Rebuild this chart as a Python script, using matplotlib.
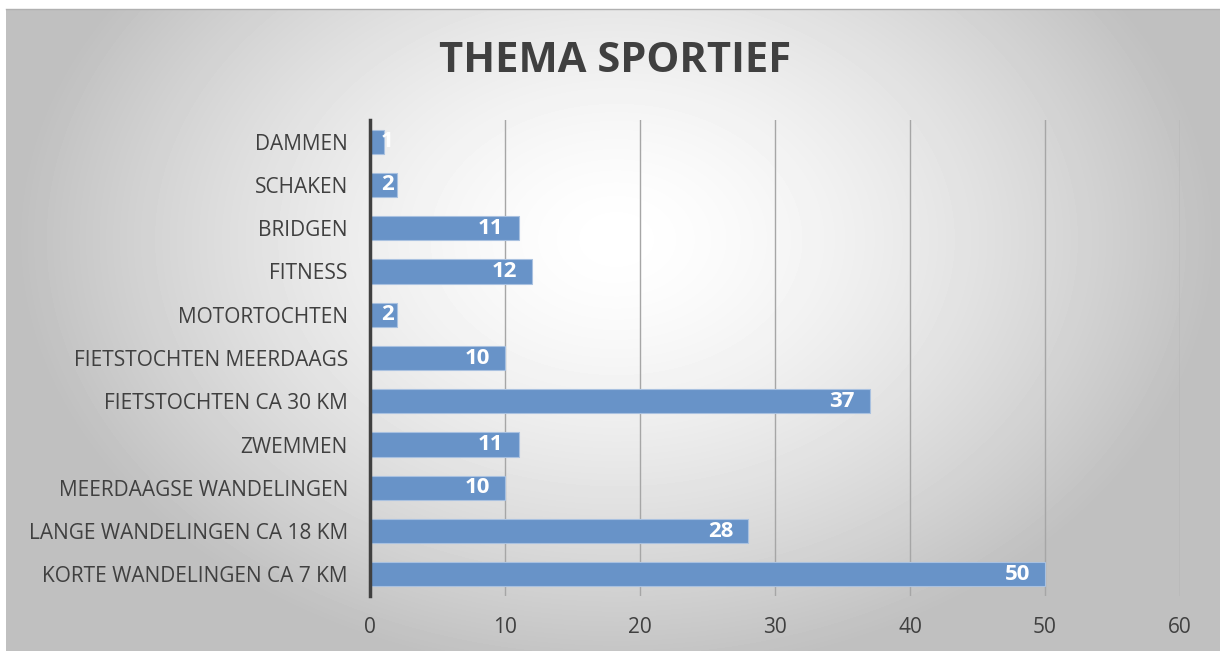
import numpy as np
import matplotlib.pyplot as plt

categories = ["KORTE WANDELINGEN CA 7 KM", "LANGE WANDELINGEN CA 18 KM",
              "MEERDAAGSE WANDELINGEN", "ZWEMMEN", "FIETSTOCHTEN CA 30 KM",
              "FIETSTOCHTEN MEERDAAGS", "MOTORTOCHTEN", "FITNESS", "BRIDGEN",
              "SCHAKEN", "DAMMEN"]
values = [50, 28, 10, 11, 37, 10, 2, 12, 11, 2, 1]
x_ticks = [0, 10, 20, 30, 40, 50, 60]

plt.rcParams['font.family'] = ['Open Sans', 'DejaVu Sans']

fig = plt.figure(figsize=(12.2, 6.51), dpi=100)

# achtergrond met radiaal verloop
bg = fig.add_axes([6 / 1220, 0, 1 - 6 / 1220, 642 / 651], zorder=-5)
yy, xx = np.mgrid[0:642, 0:1214]
r = np.sqrt(((xx - 610) / 850.0) ** 2 + ((yy - 230) / 620.0) ** 2)
shade = np.clip(1.0 - 0.42 * r ** 1.5, 0.75, 1.0)
bg.imshow(shade, cmap="gray", vmin=0, vmax=1, aspect="auto", interpolation="bilinear")
bg.axis("off")
fig.add_artist(plt.Line2D([6 / 1220, 1], [642 / 651, 642 / 651], color="#b0b0b0", lw=1))

ax = fig.add_axes([370 / 1220, 55 / 651, 810 / 1220, 476 / 651])
ax.patch.set_alpha(0)

y = np.arange(len(categories))
bars = ax.barh(y, values, height=0.56, color="#6893c8", edgecolor="#a9c1e0",
               linewidth=0.8, zorder=3)
for b, v in zip(bars, values):
    ax.text(max(v - 1.1, 1.75), b.get_y() + b.get_height() / 2, str(v), ha="right",
            va="center", color="white", fontsize=16, fontweight="bold", zorder=4)

ax.set_xlim(0, 60)
ax.set_ylim(-0.5, 10.5)
ax.set_xticks(x_ticks)
ax.set_yticks(y)
ax.set_yticklabels(categories)
ax.xaxis.grid(True, color="#a6a6a6", lw=1, zorder=0)
for s in ["top", "right", "bottom"]:
    ax.spines[s].set_visible(False)
ax.spines["left"].set_color("#404040")
ax.spines["left"].set_linewidth(2.5)
ax.spines["left"].set_zorder(5)
ax.tick_params(axis="y", length=0, pad=16, labelsize=15, labelcolor="#404040")
ax.tick_params(axis="x", length=0, pad=15, labelsize=15, labelcolor="#404040")

fig.text(615 / 1220, 1 - 62 / 651, "THEMA SPORTIEF", ha="center", va="center",
         fontsize=30, fontweight="bold", color="#404040")

fig.savefig("out.png", dpi=100)
